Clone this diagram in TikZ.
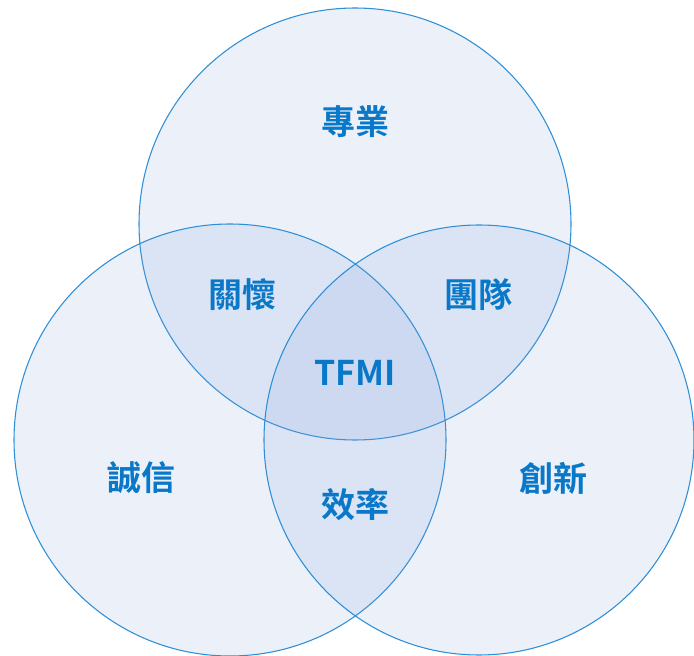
\documentclass[tikz,border=0pt]{standalone}
\usepackage{fontspec}
\newfontfamily\cjk{Noto Sans CJK TC}[BoldFont={* Bold}]
\definecolor{ringfill}{RGB}{122,155,215}
\definecolor{ringline}{RGB}{46,143,214}
\definecolor{labelblue}{RGB}{10,120,200}
\begin{document}
\begin{tikzpicture}[x=0.75pt,y=-0.75pt,
  ring/.style={draw=ringline,line width=0.8pt,fill=ringfill,fill opacity=0.15},
  lbl/.style={text=labelblue,font=\cjk\bfseries\fontsize{25.5}{28}\selectfont,inner sep=0pt}]
\useasboundingbox (0,0) rectangle (694,656);
\path[ring] (355,224) circle (216);
\path[ring] (230,440) circle (216);
\path[ring] (479,440) circle (215);
\node[lbl] (zy) at (355,122) {專業};
\node[lbl] (gh) at (242,295) {關懷};
\node[lbl] (td) at (478,295) {團隊};
\node[lbl] (tfmi) at (355,373) {TFMI};
\node[lbl] (cx) at (142,478) {誠信};
\node[lbl] (xl) at (355,505) {效率};
\node[lbl] (cxn) at (553,478) {創新};
\end{tikzpicture}
\end{document}
